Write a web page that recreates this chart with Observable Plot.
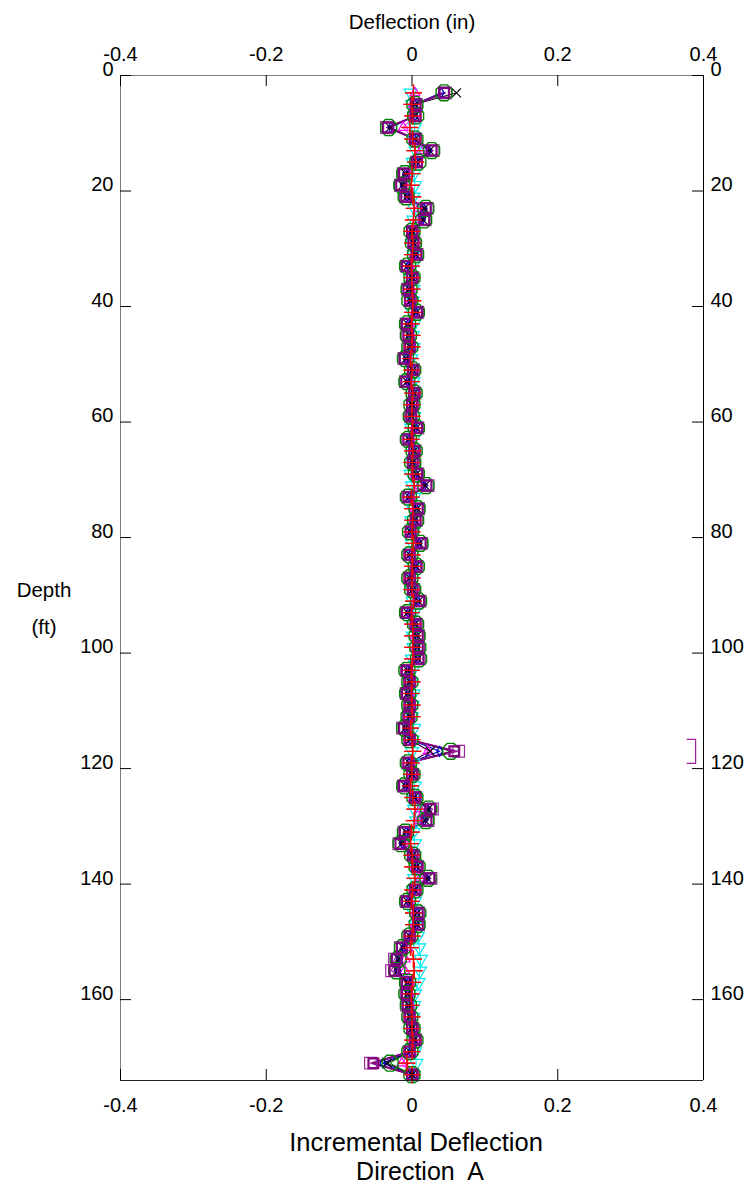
<!DOCTYPE html>
<html>
<head>
<meta charset="utf-8">
<script src="https://cdn.jsdelivr.net/npm/d3@7"></script>
<script src="https://cdn.jsdelivr.net/npm/@observablehq/plot@0.6"></script>
<style>
  html, body { margin: 0; padding: 0; background: #fff; }
  #wrap { position: relative; width: 749px; height: 1197px; font-family: "Liberation Sans", Arial, sans-serif; color: #000; }
  #wrap svg { position: absolute; left: 0; top: 0; }
  .lbl { position: absolute; line-height: 1; white-space: pre; transform: translate(-50%, -50%); }
</style>
</head>
<body>
<div id="wrap"></div>
<script>
// ---- data (deflection in inches, depth in ft) ----
const depth = [3,5,7,9,11,13,15,17,19,21,23,25,27,29,31,33,35,37,39,41,43,45,47,49,51,53,55,57,59,61,63,65,67,69,71,73,75,77,79,81,83,85,87,89,91,93,95,97,99,101,103,105,107,109,111,113,115,117,119,121,123,125,127,129,131,133,135,137,139,141,143,145,147,149,151,153,155,157,159,161,163,165,167,169,171,173];

const squaresA = [0.044,0.005,0.005,-0.033,0.004,0.027,0.007,-0.011,-0.015,-0.008,
0.019,0.017,0.000,0.002,0.006,-0.007,0.000,-0.005,-0.003,0.007,
-0.007,-0.005,-0.003,-0.010,0.001,-0.008,0.003,0.000,-0.001,0.007,
-0.005,0.003,0.001,0.007,0.020,-0.005,0.008,0.005,-0.002,0.012,
-0.003,0.006,-0.003,0.001,0.010,-0.007,0.005,0.008,0.008,0.009,
-0.007,-0.003,-0.007,-0.003,-0.004,-0.011,-0.003,0.058,-0.005,0.000,
-0.011,0.004,0.025,0.020,-0.010,-0.016,0.001,0.007,0.024,0.004,
-0.007,0.008,0.008,-0.003,-0.014,-0.021,-0.024,-0.007,-0.007,-0.006,
-0.003,0.000,0.004,-0.003,-0.053,0.000];

const squaresB = [0.046,0.006,0.004,-0.035,0.005,0.029,0.006,-0.012,-0.016,-0.009,
0.021,0.018,0.001,0.003,0.007,-0.008,0.001,-0.006,-0.002,0.008,
-0.008,-0.006,-0.004,-0.011,0.002,-0.009,0.004,0.001,-0.002,0.008,
-0.006,0.004,0.002,0.008,0.022,-0.006,0.009,0.006,-0.001,0.013,
-0.004,0.007,-0.004,0.002,0.011,-0.008,0.006,0.009,0.009,0.010,
-0.008,-0.004,-0.008,-0.004,-0.005,-0.013,-0.004,0.064,-0.006,0.001,
-0.012,0.005,0.028,0.022,-0.011,-0.018,0.002,0.008,0.026,0.005,
-0.008,0.009,0.009,-0.004,-0.016,-0.024,-0.028,-0.008,-0.008,-0.007,
-0.004,0.001,0.005,-0.004,-0.057,0.001];

const circles = [0.044,0.004,0.005,-0.032,0.004,0.027,0.008,-0.010,-0.014,-0.008,
0.019,0.016,0.000,0.002,0.005,-0.006,0.000,-0.004,-0.003,0.006,
-0.006,-0.005,-0.003,-0.009,0.001,-0.007,0.003,0.000,-0.001,0.006,
-0.005,0.003,0.001,0.006,0.019,-0.005,0.007,0.005,-0.002,0.011,
-0.003,0.006,-0.003,0.001,0.009,-0.006,0.005,0.007,0.008,0.009,
-0.007,-0.003,-0.006,-0.003,-0.004,-0.010,-0.003,0.053,-0.005,0.000,
-0.010,0.004,0.023,0.019,-0.009,-0.015,0.001,0.007,0.022,0.004,
-0.006,0.008,0.007,-0.003,-0.013,-0.019,-0.021,-0.006,-0.007,-0.005,
-0.003,0.000,0.004,-0.003,-0.030,0.000];

const crosses = [0.061,0.004,0.004,-0.030,0.004,0.024,0.006,-0.009,-0.013,-0.007,
0.017,0.015,0.000,0.002,0.005,-0.006,0.000,-0.004,-0.002,0.006,
-0.006,-0.004,-0.003,-0.008,0.001,-0.007,0.003,0.000,-0.001,0.006,
-0.004,0.003,0.001,0.006,0.018,-0.004,0.007,0.004,-0.002,0.010,
-0.003,0.005,-0.003,0.001,0.009,-0.006,0.004,0.007,0.007,0.008,
-0.006,-0.003,-0.006,-0.003,-0.003,-0.009,-0.003,0.025,-0.004,0.000,
-0.009,0.003,0.022,0.018,-0.008,-0.014,0.001,0.006,0.021,0.003,
-0.006,0.007,0.007,-0.003,-0.012,-0.018,-0.020,-0.006,-0.006,-0.005,
-0.003,0.000,0.003,-0.003,-0.034,0.000];

const blues = [0.040,0.004,0.004,-0.029,0.003,0.023,0.006,-0.009,-0.012,-0.007,
0.016,0.014,0.000,0.002,0.005,-0.005,0.000,-0.004,-0.002,0.005,
-0.005,-0.004,-0.002,-0.008,0.001,-0.006,0.002,0.000,-0.001,0.005,
-0.004,0.002,0.001,0.005,0.017,-0.004,0.006,0.004,-0.001,0.010,
-0.002,0.005,-0.002,0.001,0.008,-0.005,0.004,0.006,0.007,0.008,
-0.006,-0.002,-0.005,-0.002,-0.003,-0.009,-0.002,0.038,-0.004,0.000,
-0.009,0.003,0.021,0.017,-0.008,-0.013,0.001,0.006,0.020,0.003,
-0.005,0.007,0.006,-0.002,-0.011,-0.017,-0.019,-0.005,-0.006,-0.005,
-0.002,0.000,0.003,-0.002,-0.040,0.000];

const magentas = [0.004,0.002,0.003,-0.012,0.002,0.012,0.004,-0.005,-0.006,-0.003,
0.009,0.008,0.001,0.001,0.003,-0.003,0.000,-0.002,-0.001,0.004,
-0.003,-0.002,-0.001,-0.004,0.001,-0.003,0.002,0.000,0.000,0.004,
-0.002,0.002,0.001,0.004,0.010,-0.002,0.004,0.003,-0.001,0.006,
-0.001,0.003,-0.001,0.001,0.005,-0.003,0.003,0.004,0.004,0.005,
-0.003,-0.001,-0.003,-0.001,-0.002,-0.005,-0.001,0.022,-0.002,0.000,
-0.005,0.002,0.011,0.009,-0.004,-0.007,0.001,0.004,0.011,0.002,
-0.003,0.004,0.004,-0.001,-0.006,-0.009,-0.010,-0.003,-0.003,-0.003,
-0.001,0.000,0.002,-0.001,-0.014,0.000];

const cyans = [-0.002,0.000,0.003,0.004,0.002,0.005,0.001,0.003,0.004,0.002,
0.003,0.002,0.001,0.000,0.002,0.001,-0.001,0.002,0.001,0.000,
0.003,0.001,0.002,-0.001,0.001,0.002,0.000,0.001,0.003,-0.001,
0.002,0.000,0.001,-0.002,0.000,0.003,0.001,-0.001,0.002,0.000,
0.001,0.002,0.000,-0.001,0.001,0.003,0.000,0.001,0.002,0.000,
0.001,-0.001,0.002,0.001,0.000,0.003,0.001,0.000,0.002,0.001,
0.004,0.002,0.003,0.006,0.002,0.004,0.001,0.005,0.003,0.002,
0.004,0.002,0.005,0.008,0.010,0.012,0.011,0.009,0.004,0.003,
0.002,0.001,0.003,0.004,0.006,0.002];

const reds = [0.002,0.000,0.001,-0.003,0.001,0.004,0.005,0.000,-0.001,0.001,
0.003,0.002,0.000,0.001,0.001,-0.001,0.000,0.000,0.001,0.001,
-0.001,0.000,0.000,-0.002,0.000,-0.001,0.001,0.000,0.000,0.001,
-0.001,0.001,0.000,0.001,0.003,-0.001,0.001,0.001,0.000,0.002,
0.000,0.001,0.000,0.000,0.002,-0.001,0.001,0.001,0.001,0.001,
-0.001,0.000,-0.001,0.000,0.000,-0.002,0.000,0.001,-0.001,0.000,
-0.002,0.001,0.004,0.003,-0.001,-0.002,0.000,0.001,0.004,0.001,
-0.001,0.002,0.002,0.000,-0.002,0.002,0.003,0.001,-0.001,-0.001,
0.000,0.000,0.001,0.000,-0.007,0.000];

const outlierX = [0.383];
const outlierDepth = [117];

const xTicks = [-0.4, -0.2, 0, 0.2, 0.4];
const xTickLabels = ["-0.4", "-0.2", "0", "0.2", "0.4"];
const yTicks = [0, 20, 40, 60, 80, 100, 120, 140, 160];
const yTickLabels = ["0", "20", "40", "60", "80", "100", "120", "140", "160"];
const xDomain = [-0.4, 0.4];
const yDomain = [0, 174];

// ---- build ----
const rows = vals => depth.map((d, i) => ({depth: d, x: vals[i]}));
const W = 749, H = 1197, mT = 75, mB = 117, mL = 120, mR = 46;
const frameW = W - mL - mR, frameH = H - mT - mB, tk = 11;

const octagon = {draw(ctx, size) {
  const r = Math.sqrt(size / Math.PI);
  for (let i = 0; i < 8; i++) {
    const a = Math.PI / 8 + i * Math.PI / 4;
    const px = r * Math.cos(a), py = r * Math.sin(a);
    if (i) ctx.lineTo(px, py); else ctx.moveTo(px, py);
  }
  ctx.closePath();
}};
const bracket = {draw(ctx) {
  ctx.moveTo(-4.5, -12); ctx.lineTo(4.5, -12); ctx.lineTo(4.5, 12); ctx.lineTo(-4.5, 12);
}};

// draw order: lines first, then markers in this order
const series = [
  {vals: reds,     color: "#ff0000", symbol: "plus",     r: 5.5, lw: 1,   sw: 1.3},
  {vals: cyans,    color: "#00e8f0", symbol: "triangle", r: 4.8, lw: 1,   sw: 1.2, rotate: 180},
  {vals: magentas, color: "#ff00ff", symbol: "triangle", r: 3.6, lw: 1,   sw: 1.2},
  {vals: blues,    color: "#0000c8", symbol: "diamond",  r: 3.0, lw: 1.2, sw: 1.2},
  {vals: crosses,  color: "#000000", symbol: "times",    r: 4.2, lw: 1,   sw: 1.1},
  {vals: squaresB, color: "#9a2a9a", symbol: "square",   r: 6.6, lw: 1.2, sw: 1.2},
  {vals: circles,  color: "#008000", symbol: octagon,    r: 8.6, lw: 1,   sw: 1.4},
  {vals: squaresA, color: "#800080", symbol: "square",   r: 5.5, lw: 2.0, sw: 2.2}
];

const marks = [];
for (const s of series) {
  marks.push(Plot.line(rows(s.vals), {x: "x", y: "depth", stroke: s.color, strokeWidth: s.lw}));
}
for (const s of series) {
  marks.push(Plot.dot(rows(s.vals), {x: "x", y: "depth", symbol: s.symbol, r: s.r, stroke: s.color, fill: "none", strokeWidth: s.sw, rotate: s.rotate || 0}));
}
marks.push(Plot.dot(rows(reds), {x: "x", y: "depth", symbol: "plus", r: 5.5, stroke: "#ff0000", strokeWidth: 1.2}));
marks.push(Plot.dot(outlierX.map((x, i) => ({x, depth: outlierDepth[i]})), {x: "x", y: "depth", symbol: bracket, r: 5, stroke: "#a020a0", fill: "none", strokeWidth: 1.2}));

// frame
marks.push(Plot.ruleY([yDomain[0]], {stroke: "#7a7a7a"}));
marks.push(Plot.ruleX([xDomain[0]], {stroke: "#7a7a7a"}));
marks.push(Plot.ruleY([yDomain[1]], {stroke: "#222"}));
marks.push(Plot.ruleX([xDomain[1]], {stroke: "#000"}));
// inward ticks
marks.push(Plot.tickX(xTicks, {x: d => d, insetBottom: frameH - tk, stroke: "#000"}));
marks.push(Plot.tickX(xTicks, {x: d => d, insetTop: frameH - tk, stroke: "#000"}));
marks.push(Plot.tickY(yTicks, {y: d => d, insetRight: frameW - tk, stroke: "#000"}));
marks.push(Plot.tickY(yTicks, {y: d => d, insetLeft: frameW - tk, stroke: "#000"}));
// tick labels
const xfmt = d => xTickLabels[xTicks.indexOf(d)];
const yfmt = d => yTickLabels[yTicks.indexOf(d)];
marks.push(Plot.axisX(xTicks, {anchor: "top", tickSize: 0, tickPadding: 15, tickFormat: xfmt, label: null, fontSize: 20}));
marks.push(Plot.axisX(xTicks, {anchor: "bottom", tickSize: 0, tickPadding: 17, tickFormat: xfmt, label: null, fontSize: 20}));
marks.push(Plot.axisY(yTicks, {anchor: "left", tickSize: 0, tickPadding: 7, dy: -6, tickFormat: yfmt, label: null, fontSize: 20}));
marks.push(Plot.axisY(yTicks, {anchor: "right", tickSize: 0, tickPadding: 7, dy: -6, tickFormat: yfmt, label: null, fontSize: 20}));

const chart = Plot.plot({
  width: W, height: H,
  marginTop: mT, marginBottom: mB, marginLeft: mL, marginRight: mR,
  x: {domain: xDomain},
  y: {domain: yDomain, reverse: true},
  style: {fontFamily: '"Liberation Sans", Arial, sans-serif', fontSize: "20px", background: "white", color: "black"},
  marks
});

const wrap = document.getElementById("wrap");
wrap.appendChild(chart);
function label(text, x, y, size) {
  const d = document.createElement("div");
  d.className = "lbl";
  d.textContent = text;
  d.style.left = x + "px"; d.style.top = y + "px"; d.style.fontSize = size + "px";
  wrap.appendChild(d);
}
label("Deflection (in)", 412, 22, 20.5);
label("Depth", 44, 590, 20.5);
label("(ft)", 44, 627, 20.5);
label("Incremental Deflection", 416, 1143, 25.5);
label("Direction  A", 420, 1171, 25);
</script>
</body>
</html>
